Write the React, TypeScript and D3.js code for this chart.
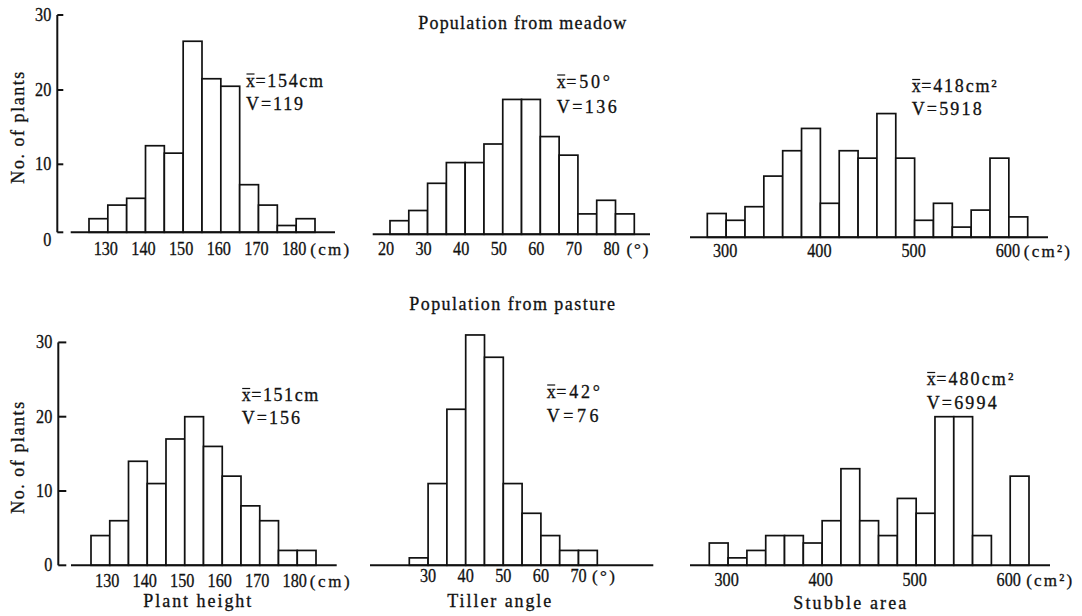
import React from 'react';
import * as d3 from 'd3';

// Histogram data: lower bin edges and number of plants per bin
const heightBins = [125, 130, 135, 140, 145, 150, 155, 160, 165, 170, 175, 180];
const meadowHeight = [2, 4, 5, 12.5, 11.5, 26.5, 21.5, 20.5, 7, 4, 1, 2];
const pastureHeight = [4, 6, 14, 11, 17, 20, 16, 12, 8, 6, 2, 2];

const meadowAngleBins = [20, 25, 30, 35, 40, 45, 50, 55, 60, 65, 70, 75, 80];
const meadowAngle = [2, 3.5, 7.5, 10.5, 10.5, 13, 19, 19, 14, 11.5, 3, 5, 3];
const pastureAngleBins = [25, 30, 35, 40, 45, 50, 55, 60, 65, 70];
const pastureAngle = [1, 11, 21, 31, 28, 11, 7, 4, 2, 2];

const areaBins = [280, 300, 320, 340, 360, 380, 400, 420, 440, 460, 480, 500, 520, 540, 560, 580, 600];
const meadowArea = [3.5, 2.5, 4.5, 9, 12.5, 15.5, 5, 12.5, 11.5, 17.5, 11.5, 2.5, 5, 1.5, 4, 11.5, 3];
const pastureArea = [3, 1, 2, 4, 4, 3, 6, 13, 6, 4, 9, 7, 20, 20, 4, 0, 12];

const heightTicks = [130, 140, 150, 160, 170, 180];
const meadowAngleTicks = [20, 30, 40, 50, 60, 70, 80];
const pastureAngleTicks = [30, 40, 50, 60, 70];
const areaTicks = [300, 400, 500, 600];
const countTicks = [0, 10, 20, 30];

const FONT = "'Liberation Serif', 'Times New Roman', Times, 'DejaVu Serif', serif";
const INK = '#111';
// printed type is a little heavier than the screen font
const T = { fill: INK, stroke: INK, strokeWidth: 0.3 };

// the printed top-row count axis is slightly compressed below 10
const topRowPx = [0, 68, 142.3, 217.3];
const bottomRowPx = [0, 74.3, 148.6, 222.9];

type Stat = { x: number; y: number; rest: string; len: number; bar?: boolean };

type PanelDef = {
  bins: number[];
  binW: number;
  counts: number[];
  domain: [number, number];
  range: [number, number];
  axis: [number, number];
  base: number;
  rowPx: number[];
  ticks: number[];
  labelDx: number;
  labelDy: number;
  unit: string;
  unitDx: number;
  unitLen: number;
  stats: Stat[];
  yAxis?: { x: number; tick: number; zeroDy: number };
};

const panels: PanelDef[] = [
  {
    bins: heightBins, binW: 5, counts: meadowHeight, domain: [125, 185], range: [89, 315],
    axis: [70.7, 335], base: 232.3, rowPx: topRowPx, ticks: heightTicks, labelDx: -2, labelDy: 22.5,
    unit: '(cm)', unitDx: 14, unitLen: 39,
    stats: [
      { x: 246, y: 86.5, rest: '=154cm', len: 77, bar: true },
      { x: 246, y: 110, rest: 'V=119', len: 57 },
    ],
    yAxis: { x: 57.3, tick: 6, zeroDy: 8 },
  },
  {
    bins: meadowAngleBins, binW: 5, counts: meadowAngle, domain: [20, 85], range: [390, 634.3],
    axis: [372.7, 650], base: 234.3, rowPx: topRowPx, ticks: meadowAngleTicks, labelDx: -4, labelDy: 21,
    unit: '(°)', unitDx: 11, unitLen: 22,
    stats: [
      { x: 556.7, y: 87.5, rest: '=50°', len: 53.3, bar: true },
      { x: 556.7, y: 112.5, rest: 'V=136', len: 60 },
    ],
  },
  {
    bins: areaBins, binW: 20, counts: meadowArea, domain: [280, 620], range: [707.3, 1027.7],
    axis: [690, 1048], base: 237.3, rowPx: topRowPx, ticks: areaTicks, labelDx: -1, labelDy: 20,
    unit: '(cm²)', unitDx: 15, unitLen: 46,
    stats: [
      { x: 911.7, y: 92, rest: '=418cm²', len: 85, bar: true },
      { x: 911.7, y: 115, rest: 'V=5918', len: 70 },
    ],
  },
  {
    bins: heightBins, binW: 5, counts: pastureHeight, domain: [125, 185], range: [91, 316],
    axis: [71, 336.7], base: 565.3, rowPx: bottomRowPx, ticks: heightTicks, labelDx: -2.5, labelDy: 21.5,
    unit: '(cm)', unitDx: 12.5, unitLen: 40,
    stats: [
      { x: 241.7, y: 401, rest: '=151cm', len: 76.6, bar: true },
      { x: 241.7, y: 424, rest: 'V=156', len: 58.3 },
    ],
    yAxis: { x: 58.3, tick: 8, zeroDy: 0 },
  },
  {
    bins: pastureAngleBins, binW: 5, counts: pastureAngle, domain: [25, 75], range: [409.3, 597.3],
    axis: [370, 653.3], base: 565.3, rowPx: bottomRowPx, ticks: pastureAngleTicks, labelDx: 0, labelDy: 17,
    unit: '(°)', unitDx: 13.4, unitLen: 23,
    stats: [
      { x: 546.7, y: 397.5, rest: '=42°', len: 53.3, bar: true },
      { x: 546.7, y: 422, rest: 'V=76', len: 51.7 },
    ],
  },
  {
    bins: areaBins, binW: 20, counts: pastureArea, domain: [280, 620], range: [709.3, 1029],
    axis: [690, 1050], base: 565.3, rowPx: bottomRowPx, ticks: areaTicks, labelDx: -1.5, labelDy: 21,
    unit: '(cm²)', unitDx: 16, unitLen: 46,
    stats: [
      { x: 926.7, y: 385, rest: '=480cm²', len: 86.6, bar: true },
      { x: 926.7, y: 408.5, rest: 'V=6994', len: 70 },
    ],
  },
];

// tick numbers are printed in a narrow face: fit them to the printed width
const numLen = (v: number) => String(v).length * 8.1;

const Panel = ({ p }: { p: PanelDef }) => {
  const x = d3.scaleLinear().domain(p.domain).range(p.range);
  const y = d3.scaleLinear().domain(countTicks).range(p.rowPx.map(o => p.base - o));
  const last = p.ticks[p.ticks.length - 1];
  const labelY = p.base + p.labelDy;

  return (
    <g>
      {p.bins.map((b, i) =>
        p.counts[i] > 0 ? (
          <rect
            key={b}
            x={x(b)}
            y={y(p.counts[i])}
            width={x(b + p.binW) - x(b)}
            height={y(0) - y(p.counts[i])}
            fill="#fff"
            stroke={INK}
            strokeWidth={1.7}
          />
        ) : null
      )}
      <line x1={p.axis[0]} x2={p.axis[1]} y1={p.base} y2={p.base} stroke={INK} strokeWidth={2} />

      {p.ticks.map(t => (
        <text key={t} x={x(t) + p.labelDx - numLen(t) / 2} y={labelY} fontSize={18} {...T}
          textLength={numLen(t)} lengthAdjust="spacingAndGlyphs">
          {t}
        </text>
      ))}
      <text x={x(last) + p.unitDx} y={labelY} fontSize={17} {...T}
        textLength={p.unitLen} lengthAdjust="spacing">
        {p.unit}
      </text>

      {p.yAxis && (
        <g>
          <line x1={p.yAxis.x} x2={p.yAxis.x} y1={y(30)} y2={y(0)} stroke={INK} strokeWidth={2} />
          {countTicks.map(c => (
            <g key={c}>
              <line x1={p.yAxis.x} x2={p.yAxis.x + p.yAxis.tick} y1={y(c)} y2={y(c)}
                stroke={INK} strokeWidth={2} />
              <text x={p.yAxis.x - 6 - numLen(c)} y={y(c) + 6 + (c === 0 ? p.yAxis.zeroDy : 0)}
                fontSize={18} {...T} textLength={numLen(c)} lengthAdjust="spacingAndGlyphs">
                {c}
              </text>
            </g>
          ))}
          <text
            transform={`translate(24,${(y(0) + y(30)) / 2 + 4}) rotate(-90)`}
            textAnchor="middle" fontSize={18} {...T}
            textLength={112} lengthAdjust="spacing">
            No. of  plants
          </text>
        </g>
      )}

      {p.stats.map((s, i) =>
        s.bar ? (
          <g key={i}>
            <text x={s.x} y={s.y} fontSize={18} {...T}>x</text>
            <line x1={s.x + 0.5} x2={s.x + 8.5} y1={s.y - 12.5} y2={s.y - 12.5} stroke={INK} strokeWidth={1.2} />
            <text x={s.x + 9.5} y={s.y} fontSize={18} {...T}
              textLength={s.len - 9.5} lengthAdjust="spacing">
              {s.rest}
            </text>
          </g>
        ) : (
          <text key={i} x={s.x} y={s.y} fontSize={18} {...T}
            textLength={s.len} lengthAdjust="spacing">
            {s.rest}
          </text>
        )
      )}
    </g>
  );
};

const App = () => (
  <svg
    width={1082}
    height={616}
    style={{ position: 'absolute', left: 0, top: 0, background: '#fff', fontFamily: FONT }}
  >
    <rect width={1082} height={616} fill="#fff" />
    <text x={418.3} y={28.5} fontSize={18} {...T} textLength={208} lengthAdjust="spacing">
      Population from meadow
    </text>
    <text x={409.3} y={309.5} fontSize={18} {...T} textLength={205.7} lengthAdjust="spacing">
      Population from pasture
    </text>

    {panels.map((p, i) => <Panel key={i} p={p} />)}

    <text x={143.3} y={607} fontSize={18} {...T} textLength={108} lengthAdjust="spacing">
      Plant  height
    </text>
    <text x={447.3} y={607} fontSize={18} {...T} textLength={104} lengthAdjust="spacing">
      Tiller  angle
    </text>
    <text x={793.3} y={608.5} fontSize={18} {...T} textLength={113} lengthAdjust="spacing">
      Stubble  area
    </text>
  </svg>
);

export default App;
